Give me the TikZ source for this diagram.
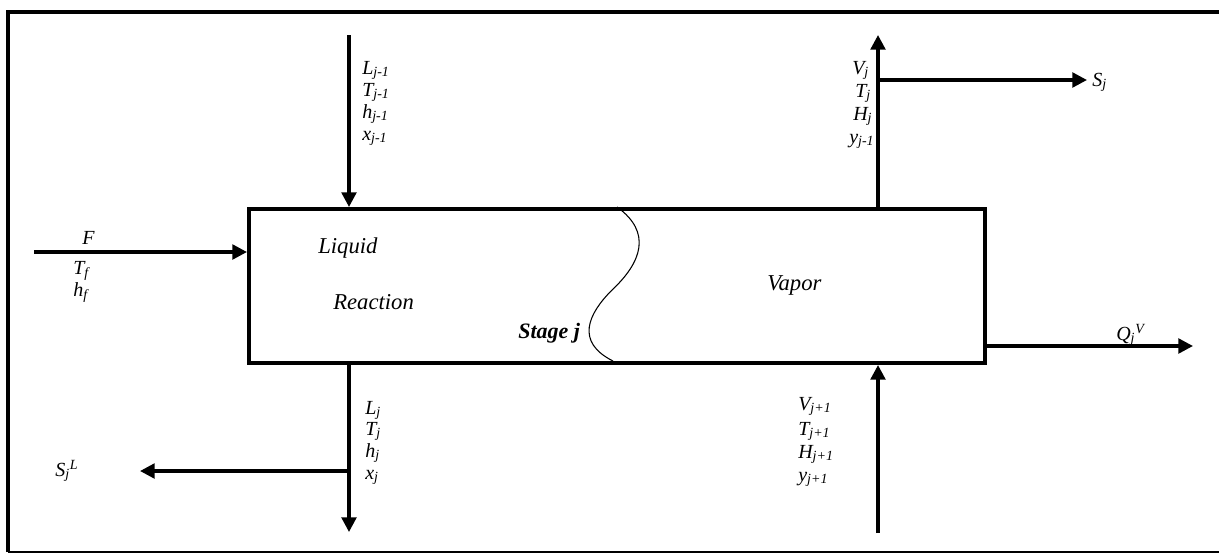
\documentclass[tikz,border=0pt]{standalone}
\usepackage{fontspec}
\setmainfont{Liberation Serif}
\usetikzlibrary{arrows.meta}
\begin{document}
\begin{tikzpicture}[x=0.75pt,y=-0.75pt,
  flow/.style={line width=2.5pt, -{Triangle[length=11pt,width=11pt]}},
  lbl/.style={font=\fontsize{15}{17}\selectfont\itshape, inner sep=0pt, anchor=base west},
  word/.style={font=\fontsize{17}{19}\selectfont\itshape, inner sep=0pt, anchor=base west},
  stagebox/.style={draw, line width=3pt, inner sep=0pt, anchor=north west,
    minimum width=552pt, minimum height=115.5pt}]
\useasboundingbox (0,0) rectangle (1219,557);

% outer frame (open on the right)
\draw[line width=3pt] (8,552) -- (8,12) -- (1219,12);
\draw[line width=1.5pt] (8,552) -- (1219,552);

% the stage
\node[stagebox] (stage) at (247,207) {};
\draw[line width=0.8pt] (617,207) .. controls (652,232) and (642,262) .. (612,290)
  .. controls (588,314) and (575,342) .. (613,361);

% text inside the stage
\node[word] (liq) at (318,253) {Liquid};
\node[word] (rea) at (333,309) {Reaction};
\node[word] (vap) at (767,290) {Vapor};
\node[word, font=\fontsize{16.5}{19}\selectfont\bfseries\itshape] (stg) at (518,338) {Stage j};

% stream labels
\node[lbl] (Ljm) at (362,74)  {L\textsubscript{j-1}};
\node[lbl] (Tjm) at (362,96)  {T\textsubscript{j-1}};
\node[lbl] (hjm) at (362,118) {h\textsubscript{j-1}};
\node[lbl] (xjm) at (362,140) {x\textsubscript{j-1}};

\node[lbl] (Vj) at (852,74)  {V\textsubscript{j}};
\node[lbl] (Tj) at (855,97)  {T\textsubscript{j}};
\node[lbl] (Hj) at (853,120) {H\textsubscript{j}};
\node[lbl] (yj) at (849,143) {y\textsubscript{j-1}};

\node[lbl] (Fl) at (82,244)  {F};
\node[lbl] (Tf) at (73,274)  {T\textsubscript{f}};
\node[lbl] (hf) at (73,296)  {h\textsubscript{f}};

\node[lbl] (Lj)  at (365,414) {L\textsubscript{j}};
\node[lbl] (Tjb) at (365,435) {T\textsubscript{j}};
\node[lbl] (hj)  at (365,457) {h\textsubscript{j}};
\node[lbl] (xj)  at (365,479) {x\textsubscript{j}};

\node[lbl] (Vp) at (798,410) {V\textsubscript{j+1}};
\node[lbl] (Tp) at (798,435) {T\textsubscript{j+1}};
\node[lbl] (Hp) at (798,458) {H\textsubscript{j+1}};
\node[lbl] (yp) at (798,481) {y\textsubscript{j+1}};

\node[lbl] (Sj) at (1092,86) {S\textsubscript{j}};
\node[lbl] (SL) at (55,476)  {S\textsubscript{j}\textsuperscript{L}};
\node[lbl] (QV) at (1116,340) {Q\textsubscript{j}\textsuperscript{V}};

% stream ends
\coordinate (Lin)  at (349,35);
\coordinate (Vout) at (878,35);
\coordinate (Stip) at (1087,80);
\coordinate (Fin)  at (34,252);
\coordinate (Lout) at (349,532);
\coordinate (Lbr)  at (349,471);
\coordinate (SLtip) at (140,471);
\coordinate (Vin)  at (878,533);
\coordinate (Qtip) at (1193,346);

% streams
\draw[flow] (Lin) -- (Lin |- stage.north);
\draw[flow] (Vout |- stage.north) -- (Vout);
\draw[flow] (Vout |- Stip) -- (Stip);
\draw[flow] (Fin) -- (Fin -| stage.west);
\draw[flow] (stage.south -| Lout) -- (Lout);
\draw[flow] (Lbr) -- (SLtip);
\draw[flow] (Vin) -- (Vin |- stage.south);
\draw[flow] (stage.east |- Qtip) -- (Qtip);
\end{tikzpicture}
\end{document}
